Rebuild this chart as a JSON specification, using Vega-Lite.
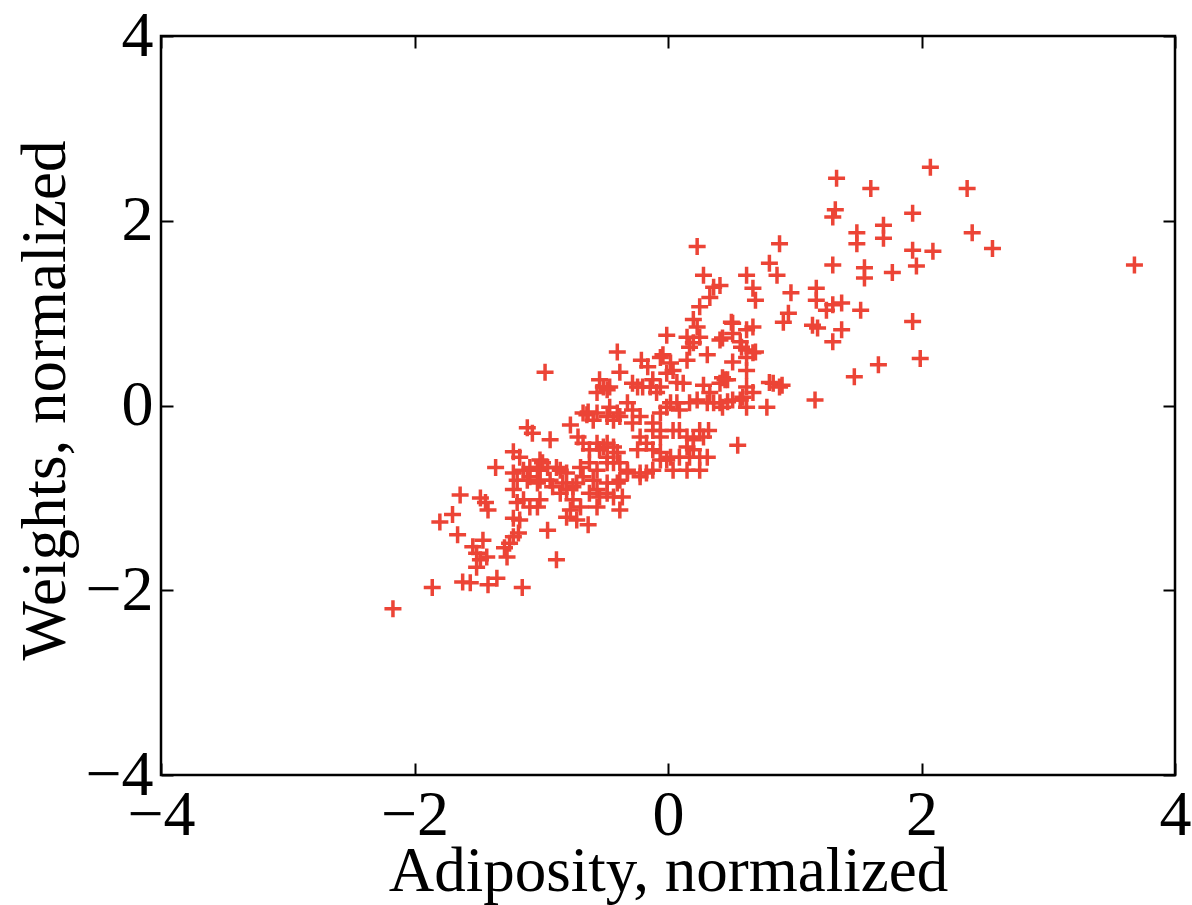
{
"$schema":"https://vega.github.io/schema/vega-lite/v6.json",
"width":1014,"height":739,
"autosize":{"type":"none"},
"padding":{"left":161,"top":36,"right":17,"bottom":130},
"background":"white",
"config":{"view":{"stroke":"black","strokeWidth":2.5},
"axis":{"domain":false,"grid":false,"labelFlush":false,"labelOverlap":false,"tickColor":"black","tickWidth":2,"tickSize":-12,"labelFont":"Liberation Serif","labelFontSize":64,"labelColor":"black","titleFont":"Liberation Serif","titleFontSize":63,"titleFontWeight":"normal","titleColor":"black"}},
"data":{"values":[
{"a":-2.17,"w":-2.2},{"a":-1.86,"w":-1.97},{"a":-1.62,"w":-1.91},{"a":-1.56,"w":-1.92},{"a":-1.42,"w":-1.94},{"a":-1.35,"w":-1.87},{"a":-1.15,"w":-1.97},{"a":-1.54,"w":-1.53},{"a":-1.51,"w":-1.6},{"a":-1.48,"w":-1.67},
{"a":-1.51,"w":-1.75},{"a":-1.46,"w":-1.46},{"a":-1.43,"w":-1.64},{"a":-1.29,"w":-1.54},{"a":-1.27,"w":-1.64},{"a":-1.25,"w":-1.49},{"a":-1.22,"w":-1.42},{"a":-1.18,"w":-1.38},{"a":-1.66,"w":-1.4},{"a":-1.8,"w":-1.26},
{"a":-1.7,"w":-1.18},{"a":-1.64,"w":-0.97},{"a":-1.48,"w":-1.0},{"a":-1.44,"w":-1.05},{"a":-1.42,"w":-1.13},{"a":-1.36,"w":-0.67},{"a":-1.22,"w":-1.22},{"a":-1.19,"w":-1.05},{"a":-1.22,"w":-0.91},{"a":-1.19,"w":-0.81},
{"a":-1.22,"w":-0.73},{"a":-1.22,"w":-0.5},{"a":-1.17,"w":-0.56},{"a":-1.11,"w":-0.24},{"a":-1.07,"w":-0.3},{"a":-1.14,"w":-0.7},{"a":-1.09,"w":-0.77},{"a":-1.03,"w":-0.67},{"a":-0.99,"w":-0.62},{"a":-1.14,"w":-1.02},
{"a":-1.03,"w":-1.1},{"a":-1.01,"w":-1.02},{"a":-0.95,"w":-1.35},{"a":-0.93,"w":-0.37},{"a":-0.88,"w":-1.67},{"a":-0.97,"w":0.36},{"a":-0.4,"w":0.58},{"a":-0.38,"w":0.36},{"a":-0.54,"w":0.28},{"a":-0.51,"w":0.2},
{"a":-0.56,"w":0.14},{"a":-0.77,"w":-0.21},{"a":-0.64,"w":-0.1},{"a":-0.59,"w":-0.16},{"a":-0.48,"w":-0.12},{"a":-0.43,"w":-0.16},{"a":-0.38,"w":-0.12},{"a":-0.71,"w":-0.34},{"a":-0.67,"w":-0.41},{"a":-0.62,"w":-0.48},
{"a":-0.56,"w":-0.41},{"a":-0.43,"w":-0.45},{"a":-1.09,"w":-0.67},{"a":-1.01,"w":-0.7},{"a":-0.95,"w":-0.67},{"a":-0.88,"w":-0.67},{"a":-0.8,"w":-0.73},{"a":-0.69,"w":-0.67},{"a":-0.62,"w":-0.62},{"a":-0.56,"w":-0.7},
{"a":-0.48,"w":-0.56},{"a":-0.43,"w":-0.62},{"a":-1.11,"w":-0.81},{"a":-1.03,"w":-0.84},{"a":-0.93,"w":-0.81},{"a":-0.83,"w":-0.84},{"a":-0.75,"w":-0.88},{"a":-0.67,"w":-0.77},{"a":-0.59,"w":-0.81},{"a":-0.48,"w":-0.84},
{"a":-0.4,"w":-0.84},{"a":-0.85,"w":-0.95},{"a":-0.75,"w":-1.02},{"a":-0.62,"w":-0.95},{"a":-0.54,"w":-0.99},{"a":-0.43,"w":-0.99},{"a":-0.36,"w":-0.99},{"a":-1.09,"w":-1.1},{"a":-0.77,"w":-1.13},{"a":-0.69,"w":-1.1},
{"a":-0.56,"w":-1.1},{"a":-0.38,"w":-1.13},{"a":-1.17,"w":-1.24},{"a":-0.8,"w":-1.21},{"a":-0.72,"w":-1.24},{"a":-0.63,"w":-1.29},{"a":0.23,"w":1.72},{"a":0.28,"w":1.41},{"a":0.36,"w":1.28},{"a":0.33,"w":1.17},
{"a":0.25,"w":1.07},{"a":0.2,"w":0.93},{"a":-0.01,"w":0.76},{"a":0.15,"w":0.74},{"a":0.2,"w":0.68},{"a":0.17,"w":0.63},{"a":0.25,"w":0.74},{"a":0.41,"w":0.71},{"a":0.51,"w":0.78},{"a":0.58,"w":0.63},
{"a":0.67,"w":0.57},{"a":-0.04,"w":0.55},{"a":0.15,"w":0.49},{"a":0.31,"w":0.55},{"a":0.51,"w":0.47},{"a":-0.21,"w":0.49},{"a":-0.16,"w":0.42},{"a":0.02,"w":0.46},{"a":0.04,"w":0.38},{"a":0.62,"w":0.38},
{"a":-0.28,"w":0.24},{"a":-0.2,"w":0.2},{"a":-0.14,"w":0.2},{"a":0.07,"w":0.25},{"a":0.28,"w":0.22},{"a":0.43,"w":0.3},{"a":0.83,"w":0.24},{"a":0.9,"w":0.22},{"a":-0.09,"w":0.14},{"a":0.02,"w":0.03},
{"a":0.07,"w":0.03},{"a":0.23,"w":0.06},{"a":0.31,"w":0.03},{"a":0.41,"w":0.03},{"a":0.51,"w":0.06},{"a":0.59,"w":0.09},{"a":0.67,"w":0.14},{"a":0.78,"w":-0.02},{"a":-0.63,"w":-0.07},{"a":-0.46,"w":-0.02},
{"a":-0.4,"w":-0.08},{"a":-0.32,"w":0.03},{"a":-0.28,"w":-0.05},{"a":-0.06,"w":-0.08},{"a":-0.12,"w":-0.19},{"a":-0.06,"w":-0.27},{"a":0.09,"w":-0.27},{"a":0.15,"w":-0.34},{"a":0.25,"w":-0.27},{"a":0.32,"w":-0.27},
{"a":0.55,"w":-0.43},{"a":-0.51,"w":-0.45},{"a":-0.4,"w":-0.51},{"a":-0.24,"w":-0.48},{"a":-0.17,"w":-0.41},{"a":-0.12,"w":-0.48},{"a":-0.06,"w":-0.59},{"a":0.02,"w":-0.56},{"a":0.2,"w":-0.48},{"a":0.31,"w":-0.56},
{"a":-0.38,"w":-0.62},{"a":-0.32,"w":-0.7},{"a":-0.22,"w":-0.73},{"a":-0.12,"w":-0.7},{"a":0.04,"w":-0.7},{"a":0.15,"w":-0.7},{"a":0.25,"w":-0.7},{"a":0.23,"w":0.85},{"a":0.51,"w":0.89},{"a":0.62,"w":0.82},
{"a":0.62,"w":0.52},{"a":-0.06,"w":0.52},{"a":-0.01,"w":0.35},{"a":-0.46,"w":0.2},{"a":-0.24,"w":0.2},{"a":-0.12,"w":0.28},{"a":-0.06,"w":0.2},{"a":0.12,"w":0.24},{"a":0.33,"w":0.14},{"a":0.47,"w":0.28},
{"a":0.62,"w":0.2},{"a":0.62,"w":-0.02},{"a":-0.48,"w":0.17},{"a":0.41,"w":0.24},{"a":-0.67,"w":-0.08},{"a":-0.56,"w":-0.08},{"a":-0.22,"w":-0.12},{"a":-0.28,"w":-0.19},{"a":-0.01,"w":-0.02},{"a":0.09,"w":-0.05},
{"a":0.17,"w":0.03},{"a":0.36,"w":0.03},{"a":0.43,"w":-0.02},{"a":-0.54,"w":-0.48},{"a":-0.48,"w":-0.41},{"a":-0.22,"w":-0.34},{"a":-0.06,"w":-0.34},{"a":-0.12,"w":-0.27},{"a":0.04,"w":-0.27},{"a":0.2,"w":-0.37},
{"a":0.28,"w":-0.34},{"a":0.15,"w":-0.45},{"a":-0.06,"w":-0.51},{"a":-0.01,"w":-0.59},{"a":0.09,"w":-0.56},{"a":0.17,"w":-0.56},{"a":0.25,"w":-0.56},{"a":-1.01,"w":-0.59},{"a":-0.85,"w":-0.7},{"a":-0.48,"w":-0.62},
{"a":-0.38,"w":-0.81},{"a":-0.32,"w":-0.73},{"a":-0.22,"w":-0.77},{"a":-0.17,"w":-0.73},{"a":-1.01,"w":-0.81},{"a":-0.91,"w":-0.88},{"a":-0.8,"w":-0.91},{"a":-0.72,"w":-0.84},{"a":-0.56,"w":-0.91},{"a":-0.48,"w":-0.95},
{"a":0.88,"w":1.75},{"a":1.33,"w":2.46},{"a":1.6,"w":2.35},{"a":2.36,"w":2.35},{"a":2.07,"w":2.58},{"a":1.32,"w":2.12},{"a":1.3,"w":2.04},{"a":1.93,"w":2.08},{"a":1.49,"w":1.87},{"a":1.49,"w":1.75},
{"a":1.7,"w":1.95},{"a":1.7,"w":1.81},{"a":2.4,"w":1.87},{"a":2.56,"w":1.7},{"a":1.93,"w":1.68},{"a":2.09,"w":1.67},{"a":1.96,"w":1.51},{"a":1.55,"w":1.49},{"a":1.55,"w":1.38},{"a":1.77,"w":1.44},
{"a":1.52,"w":1.03},{"a":1.93,"w":0.91},{"a":1.99,"w":0.51},{"a":1.66,"w":0.44},{"a":1.47,"w":0.31},{"a":3.68,"w":1.52},{"a":1.3,"w":1.52},{"a":0.8,"w":1.54},{"a":0.86,"w":1.41},{"a":0.62,"w":1.41},
{"a":0.67,"w":1.27},{"a":0.69,"w":1.14},{"a":0.97,"w":1.22},{"a":1.17,"w":1.27},{"a":1.17,"w":1.14},{"a":1.3,"w":1.09},{"a":1.25,"w":1.03},{"a":0.95,"w":1.0},{"a":0.91,"w":0.9},{"a":1.14,"w":0.87},
{"a":1.18,"w":0.84},{"a":1.37,"w":0.82},{"a":1.3,"w":0.69},{"a":0.5,"w":0.9},{"a":0.67,"w":0.85},{"a":0.43,"w":0.73},{"a":0.57,"w":0.69},{"a":0.62,"w":0.6},{"a":0.69,"w":0.58},{"a":0.45,"w":0.28},
{"a":0.8,"w":0.25},{"a":0.88,"w":0.2},{"a":0.57,"w":0.06},{"a":0.47,"w":0.04},{"a":1.16,"w":0.06},{"a":0.41,"w":1.3},{"a":1.37,"w":1.11}
]},
"layer":[
{"mark":{"type":"point","shape":"M-1,0H1M0,-1V1","filled":false,"stroke":"#EC4436","strokeWidth":3.5,"size":289,"opacity":1},
"encoding":{
"x":{"field":"a","type":"quantitative","scale":{"domain":[-4,4],"nice":false,"zero":false},"axis":{"orient":"bottom","values":[-4,-2,0,2,4],"format":"d","title":"Adiposity, normalized","labelPadding":20,"titleY":115,"titleBaseline":"alphabetic","titleX":507}},
"y":{"field":"w","type":"quantitative","scale":{"domain":[-4,4],"nice":false,"zero":false},"axis":{"orient":"left","values":[-4,-2,0,2,4],"format":"d","title":"Weights, normalized","labelPadding":20,"titleAngle":-90,"titleBaseline":"middle","titleX":-116,"titleY":364}}}},
{"mark":{"type":"point","opacity":0},
"encoding":{
"x":{"field":"a","type":"quantitative","axis":{"orient":"top","values":[-4,-2,0,2,4],"labels":false,"title":null}},
"y":{"field":"w","type":"quantitative","axis":{"orient":"right","values":[-4,-2,0,2,4],"labels":false,"title":null}}}}
],
"resolve":{"axis":{"x":"independent","y":"independent"}}
}
